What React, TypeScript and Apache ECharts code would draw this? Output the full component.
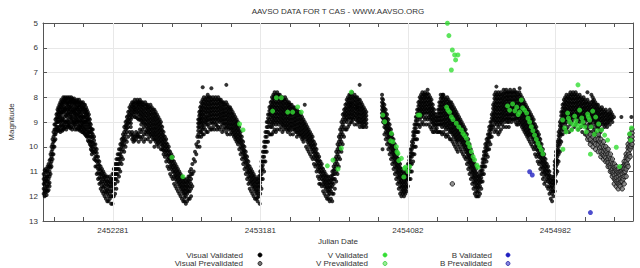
import React, { useEffect, useRef } from 'react';
import * as echarts from 'echarts';

// Julian dates below are stored as JD - 2450000
const JD0 = 2450000;
const chartTitle = 'AAVSO DATA FOR T CAS - WWW.AAVSO.ORG';
const xAxisName = 'Julian Date';
const yAxisName = 'Magnitude';
const xTickLabels = [2452281, 2453181, 2454082, 2454982];
const xRange = [2451854, 2455456];
const yRange = [5, 13];

// rows: [date, mag, mag, ...] — visual observations around that date
const visualValidatedRows: number[][] = [
  [1858, 11.1, 11.3, 11.5, 11.7, 11.9], [1864, 10.95, 11.2, 11.4, 11.55, 11.8, 12.0], [1870, 10.9, 11.05, 11.3, 11.45, 11.7, 11.85],
  [1876, 11.0, 11.2, 11.35, 11.6, 11.75, 11.95], [1882, 10.8, 10.95, 11.2, 11.4, 11.6, 11.8], [1888, 10.7, 10.85, 11.1, 11.3, 11.5, 11.75],
  [1894, 10.55, 10.8, 11.0, 11.2, 11.45, 11.6], [1900, 10.3, 10.5, 10.7, 10.85, 11.1], [1906, 10.0, 10.2, 10.4, 10.6, 10.8],
  [1912, 9.7, 9.9, 10.1, 10.3, 10.5], [1918, 9.4, 9.6, 9.8, 10.0, 10.3], [1924, 9.1, 9.3, 9.5, 9.75, 10.0],
  [1930, 8.9, 9.1, 9.3, 9.5, 9.7], [1936, 8.7, 8.85, 9.0, 9.2, 9.4], [1942, 8.5, 8.65, 8.8, 9.0, 9.2, 9.35],
  [1948, 8.4, 8.55, 8.7, 8.9, 9.0, 9.3], [1954, 8.3, 8.45, 8.6, 8.8, 8.95, 9.2, 9.35],
  [1960, 8.2, 8.35, 8.5, 8.65, 8.8, 9.0, 9.15, 9.4], [1966, 8.1, 8.25, 8.4, 8.6, 8.7, 8.95, 9.1, 9.3],
  [1972, 8.15, 8.3, 8.45, 8.6, 8.85, 8.9, 9.2, 9.35], [1978, 8.0, 8.2, 8.3, 8.5, 8.6, 9.0, 9.15, 9.3],
  [1984, 8.05, 8.15, 8.4, 8.55, 8.8, 8.95, 9.1, 9.25], [1990, 8.0, 8.1, 8.2, 8.45, 8.5, 8.7, 9.0, 9.2],
  [1996, 8.05, 8.1, 8.25, 8.4, 8.6, 8.75, 9.0, 9.3], [2002, 8.0, 8.2, 8.3, 8.5, 8.8, 8.95, 9.1, 9.2],
  [2008, 8.05, 8.2, 8.35, 8.5, 8.65, 8.7, 9.0, 9.15], [2014, 8.0, 8.15, 8.3, 8.45, 8.6, 8.9, 9.05, 9.2],
  [2020, 8.1, 8.2, 8.4, 8.5, 8.7, 8.8, 9.1, 9.25], [2026, 8.0, 8.1, 8.2, 8.35, 8.6, 8.8, 8.95, 9.2],
  [2032, 8.05, 8.25, 8.4, 8.55, 8.7, 8.85, 9.0, 9.3], [2038, 8.1, 8.2, 8.5, 8.6, 8.9, 9.05, 9.2],
  [2044, 8.05, 8.15, 8.3, 8.45, 8.6, 8.75, 9.0, 9.1], [2050, 8.2, 8.3, 8.5, 8.65, 8.8, 8.95, 9.1, 9.3],
  [2056, 8.15, 8.25, 8.4, 8.55, 8.7, 8.85, 9.0, 9.2], [2062, 8.1, 8.2, 8.4, 8.5, 8.7, 8.9, 9.0, 9.3],
  [2068, 8.2, 8.35, 8.5, 8.65, 8.8, 8.95, 9.1, 9.25], [2074, 8.1, 8.3, 8.4, 8.6, 8.75, 9.0, 9.15, 9.3],
  [2080, 8.2, 8.3, 8.5, 8.6, 8.8, 8.95, 9.2, 9.35], [2086, 8.2, 8.35, 8.5, 8.7, 8.85, 9.0, 9.15, 9.3],
  [2092, 8.25, 8.4, 8.6, 8.75, 8.9, 9.05, 9.2, 9.4], [2098, 8.2, 8.4, 8.5, 8.8, 8.95, 9.1, 9.25, 9.4],
  [2104, 8.3, 8.45, 8.6, 8.8, 9.0, 9.1, 9.3, 9.45], [2110, 8.3, 8.5, 8.65, 8.8, 9.0, 9.2, 9.35, 9.5],
  [2116, 8.4, 8.55, 8.7, 8.9, 9.0, 9.2, 9.4, 9.55], [2122, 8.5, 8.65, 8.8, 8.95, 9.1, 9.3, 9.5, 9.6],
  [2128, 8.6, 8.75, 8.9, 9.1, 9.3, 9.45, 9.6, 9.75], [2134, 8.7, 8.85, 9.0, 9.2, 9.4, 9.55, 9.8],
  [2140, 8.9, 9.05, 9.2, 9.4, 9.6, 9.75, 9.9], [2146, 9.1, 9.25, 9.4, 9.6, 9.8, 9.95, 10.1],
  [2152, 9.3, 9.45, 9.6, 9.8, 10.0, 10.15, 10.3],
  [2158, 9.3, 9.5, 9.65, 9.85, 10.0, 10.2], [2166, 9.6, 9.75, 9.9, 10.1, 10.25, 10.5], [2174, 9.9, 10.05, 10.2, 10.4, 10.55, 10.8],
  [2182, 10.1, 10.25, 10.4, 10.6, 10.8, 11.1], [2190, 10.4, 10.55, 10.7, 10.9, 11.05, 11.3], [2198, 10.6, 10.75, 10.9, 11.1, 11.25, 11.5],
  [2206, 10.8, 10.95, 11.1, 11.3, 11.45, 11.7], [2214, 10.9, 11.05, 11.2, 11.4, 11.6, 11.8], [2222, 11.0, 11.15, 11.3, 11.5, 11.65, 11.9],
  [2230, 11.1, 11.25, 11.4, 11.6, 11.8, 12.0], [2238, 11.2, 11.35, 11.5, 11.7, 11.85, 12.1], [2246, 11.2, 11.4, 11.55, 11.75, 11.9, 12.2],
  [2254, 11.3, 11.45, 11.6, 11.8, 12.0, 12.2], [2262, 11.2, 11.4, 11.55, 11.7, 11.9, 12.1], [2270, 11.3, 11.45, 11.6, 11.8, 12.0, 12.3],
  [2278, 11.1, 11.3, 11.45, 11.6, 11.8, 12.0, 12.3],
  [2286, 10.9, 11.1, 11.3, 11.5, 11.7, 12.0], [2294, 10.7, 10.9, 11.1, 11.3, 11.5, 11.9], [2302, 10.5, 10.7, 10.9, 11.1, 11.3, 11.7],
  [2310, 10.3, 10.5, 10.7, 10.9, 11.1, 11.4], [2318, 10.1, 10.3, 10.5, 10.7, 10.9, 11.2], [2326, 9.9, 10.1, 10.3, 10.45, 10.6, 11.0],
  [2334, 9.7, 9.85, 10.0, 10.2, 10.4, 10.7], [2342, 9.5, 9.65, 9.8, 9.95, 10.1, 10.5], [2350, 9.2, 9.4, 9.6, 9.75, 9.9, 10.2],
  [2358, 9.0, 9.15, 9.3, 9.5, 9.7, 10.0], [2366, 8.8, 8.95, 9.1, 9.25, 9.4, 9.8], [2374, 8.6, 8.75, 8.9, 9.05, 9.2, 9.6],
  [2382, 8.4, 8.55, 8.7, 8.85, 9.0, 9.4],
  [2390, 8.3, 8.45, 8.6, 8.75, 8.9, 9.05, 9.2, 9.5], [2398, 8.2, 8.35, 8.5, 8.65, 8.8, 9.4, 9.55, 9.7],
  [2406, 8.2, 8.3, 8.4, 8.55, 8.7, 9.5, 9.65, 9.8], [2414, 8.1, 8.25, 8.4, 8.5, 8.6, 8.8, 9.6, 9.75],
  [2422, 8.2, 8.35, 8.5, 8.65, 8.8, 9.4, 9.55, 9.7], [2430, 8.1, 8.2, 8.3, 8.45, 8.6, 8.85, 9.5, 9.6],
  [2438, 8.2, 8.3, 8.4, 8.55, 8.7, 8.9, 9.45, 9.6, 9.8], [2446, 8.1, 8.2, 8.3, 8.45, 8.6, 8.75, 8.9, 9.3, 9.6],
  [2454, 8.2, 8.35, 8.5, 8.65, 8.8, 8.95, 9.1, 9.4, 9.7], [2462, 8.2, 8.3, 8.4, 8.55, 8.7, 8.85, 9.0, 9.3, 9.6],
  [2470, 8.3, 8.45, 8.6, 8.75, 8.9, 9.05, 9.2, 9.5, 9.8], [2478, 8.2, 8.35, 8.5, 8.65, 8.8, 8.95, 9.1, 9.4, 9.7],
  [2486, 8.3, 8.45, 8.6, 8.75, 8.9, 9.05, 9.2, 9.35, 9.5], [2494, 8.3, 8.4, 8.5, 8.65, 8.8, 8.95, 9.1, 9.25, 9.4, 9.7],
  [2502, 8.4, 8.55, 8.7, 8.85, 9.0, 9.15, 9.3, 9.45, 9.6], [2510, 8.3, 8.45, 8.6, 8.75, 8.9, 9.05, 9.2, 9.35, 9.5, 9.8],
  [2518, 8.4, 8.55, 8.7, 8.85, 9.0, 9.15, 9.3, 9.45, 9.6], [2526, 8.5, 8.65, 8.8, 8.95, 9.1, 9.25, 9.4, 9.55, 9.7],
  [2534, 8.5, 8.65, 8.8, 8.95, 9.1, 9.25, 9.4, 9.55, 9.7, 10.0], [2542, 8.6, 8.75, 8.9, 9.05, 9.2, 9.35, 9.5, 9.65, 9.8],
  [2550, 8.7, 8.85, 9.0, 9.15, 9.3, 9.45, 9.6, 9.75, 9.9], [2558, 8.8, 8.95, 9.1, 9.25, 9.4, 9.55, 9.7, 9.85, 10.0],
  [2566, 8.9, 9.05, 9.2, 9.35, 9.5, 9.65, 9.8], [2574, 9.0, 9.15, 9.3, 9.45, 9.6, 9.75, 9.9, 10.1],
  [2582, 9.2, 9.35, 9.5, 9.65, 9.8, 9.95, 10.1], [2590, 9.4, 9.55, 9.7, 9.85, 10.0, 10.15, 10.3],
  [2598, 9.6, 9.75, 9.9, 10.05, 10.2, 10.4],
  [2606, 9.7, 9.85, 10.0, 10.15, 10.3, 10.6], [2614, 9.9, 10.05, 10.2, 10.35, 10.5, 10.8], [2622, 10.0, 10.15, 10.3, 10.45, 10.6, 10.9],
  [2630, 10.2, 10.35, 10.5, 10.65, 10.8, 11.1], [2638, 10.3, 10.45, 10.6, 10.75, 10.9, 11.2], [2646, 10.4, 10.55, 10.7, 10.85, 11.0, 11.3],
  [2654, 10.6, 10.75, 10.9, 11.05, 11.2, 11.5], [2662, 10.7, 10.85, 11.0, 11.15, 11.3, 11.6], [2670, 10.8, 10.95, 11.1, 11.25, 11.4, 11.7],
  [2678, 10.9, 11.05, 11.2, 11.35, 11.5, 11.8], [2686, 11.0, 11.15, 11.3, 11.45, 11.6, 11.9], [2694, 11.1, 11.25, 11.4, 11.55, 11.7, 12.0],
  [2702, 11.2, 11.35, 11.5, 11.65, 11.8, 12.1], [2710, 11.3, 11.45, 11.6, 11.75, 11.9, 12.2], [2718, 11.3, 11.45, 11.6, 11.75, 11.9, 12.05, 12.2],
  [2726, 11.4, 11.55, 11.7, 11.85, 12.0, 12.3], [2734, 11.3, 11.45, 11.6, 11.75, 11.9, 12.2], [2742, 11.2, 11.35, 11.5, 11.65, 11.8, 12.1],
  [2750, 11.0, 11.2, 11.4, 11.6, 11.8, 12.1], [2758, 10.9, 11.1, 11.3, 11.5, 11.7, 12.0], [2766, 10.7, 11.1, 11.6],
  [2774, 10.5, 11.0], [2782, 10.2, 10.6], [2790, 9.9, 10.3], [2796, 9.6, 10.0], [2810, 10.0],
  [2802, 8.9, 9.05, 9.2, 9.35, 9.5, 9.8], [2808, 8.6, 8.75, 8.9, 9.05, 9.2, 9.6], [2814, 8.4, 8.55, 8.7, 8.85, 9.0, 9.4],
  [2820, 8.2, 8.35, 8.5, 8.65, 8.8, 8.95, 9.1, 9.25, 9.4, 9.6], [2828, 8.1, 8.25, 8.4, 8.55, 8.7, 8.85, 9.0, 9.15, 9.3, 9.5],
  [2836, 8.0, 8.15, 8.3, 8.45, 8.6, 8.75, 8.9, 9.05, 9.2, 9.5], [2844, 8.1, 8.25, 8.4, 8.55, 8.7, 8.85, 9.0, 9.3],
  [2852, 8.0, 8.15, 8.3, 8.45, 8.6, 8.8, 8.95, 9.1, 9.4], [2860, 7.9, 8.05, 8.2, 8.35, 8.5, 8.65, 8.8, 8.95, 9.1, 9.4],
  [2868, 8.0, 8.15, 8.3, 8.45, 8.6, 8.75, 8.9, 9.2], [2876, 8.0, 8.15, 8.3, 8.45, 8.6, 8.75, 8.9, 9.05, 9.3],
  [2884, 8.1, 8.25, 8.4, 8.55, 8.7, 8.85, 9.0, 9.3], [2892, 8.0, 8.15, 8.3, 8.45, 8.6, 8.75, 8.9, 9.05, 9.2],
  [2900, 8.1, 8.25, 8.4, 8.55, 8.7, 8.85, 9.0, 9.3], [2908, 8.0, 8.15, 8.3, 8.45, 8.6, 8.75, 8.9, 9.1],
  [2916, 8.1, 8.25, 8.4, 8.55, 8.7, 8.85, 9.0, 9.15, 9.3], [2924, 8.0, 8.15, 8.3, 8.45, 8.6, 8.75, 8.9, 9.2],
  [2932, 8.1, 8.25, 8.4, 8.55, 8.7, 8.85, 9.0, 9.3], [2940, 8.1, 8.2, 8.35, 8.5, 8.65, 8.8, 8.95, 9.2],
  [2948, 8.2, 8.35, 8.5, 8.65, 8.8, 8.95, 9.1, 9.4], [2956, 8.2, 8.3, 8.45, 8.6, 8.75, 8.9, 9.05, 9.3],
  [2964, 8.3, 8.45, 8.6, 8.75, 8.9, 9.05, 9.2], [2972, 8.2, 8.35, 8.5, 8.65, 8.8, 8.95, 9.1, 9.25, 9.4],
  [2980, 8.3, 8.45, 8.6, 8.75, 8.9, 9.05, 9.2, 9.5], [2988, 8.4, 8.55, 8.7, 8.85, 9.0, 9.15, 9.3],
  [2996, 8.4, 8.5, 8.65, 8.8, 8.95, 9.1, 9.25, 9.5], [3004, 8.5, 8.65, 8.8, 8.95, 9.1, 9.25, 9.4],
  [3012, 8.6, 8.75, 8.9, 9.05, 9.2, 9.35, 9.5], [3020, 8.7, 8.85, 9.0, 9.15, 9.3, 9.45, 9.6],
  [3028, 8.8, 8.95, 9.1, 9.25, 9.4, 9.55, 9.7], [3036, 8.9, 9.05, 9.2, 9.35, 9.5, 9.65, 9.8],
  [3044, 9.0, 9.15, 9.3, 9.45, 9.6, 9.75, 9.9],
  [2829, 7.6], [2882, 7.64], [2973, 7.5],
  [3052, 9.2, 9.35, 9.5, 9.65, 9.8, 10.1], [3060, 9.4, 9.55, 9.7, 9.85, 10.0, 10.3], [3068, 9.6, 9.75, 9.9, 10.05, 10.2, 10.5],
  [3076, 9.8, 9.95, 10.1, 10.25, 10.4, 10.7], [3084, 10.0, 10.15, 10.3, 10.45, 10.6, 10.9], [3092, 10.2, 10.35, 10.5, 10.65, 10.8, 11.1],
  [3100, 10.4, 10.55, 10.7, 10.85, 11.0, 11.3], [3108, 10.6, 10.75, 10.9, 11.05, 11.2, 11.5], [3116, 10.8, 10.95, 11.1, 11.25, 11.4, 11.7],
  [3124, 10.9, 11.05, 11.2, 11.35, 11.5, 11.8], [3132, 11.0, 11.15, 11.3, 11.45, 11.6, 11.9], [3140, 11.1, 11.25, 11.4, 11.55, 11.7, 12.0],
  [3148, 11.2, 11.35, 11.5, 11.65, 11.8, 12.1], [3156, 11.3, 11.45, 11.6, 11.75, 11.9, 12.1], [3164, 11.3, 11.45, 11.6, 11.75, 11.9, 12.05, 12.2],
  [3172, 11.2, 11.35, 11.5, 11.65, 11.8, 12.0], [3177, 12.3],
  [3180, 11.0, 11.15, 11.3, 11.45, 11.6, 11.9], [3188, 10.6, 10.8, 10.95, 11.1, 11.3, 11.7], [3196, 10.2, 10.4, 10.6, 10.75, 10.9, 11.3],
  [3204, 9.8, 10.0, 10.2, 10.4, 10.6, 11.0], [3212, 9.4, 9.6, 9.8, 10.0, 10.2, 10.6], [3220, 9.0, 9.2, 9.4, 9.6, 9.8, 10.2],
  [3228, 8.7, 8.85, 9.0, 9.2, 9.4, 9.8], [3236, 8.4, 8.55, 8.7, 8.9, 9.1, 9.5], [3244, 8.2, 8.35, 8.5, 8.65, 8.8, 9.0, 9.2, 9.5],
  [3252, 8.0, 8.15, 8.3, 8.45, 8.6, 8.75, 8.9, 9.05, 9.2, 9.5], [3260, 7.9, 8.05, 8.2, 8.35, 8.5, 8.65, 8.8, 8.95, 9.1, 9.4],
  [3268, 7.8, 7.95, 8.1, 8.25, 8.4, 8.55, 8.7, 8.85, 9.0, 9.3], [3276, 7.9, 8.05, 8.2, 8.35, 8.5, 8.65, 8.8, 8.95, 9.1, 9.4],
  [3284, 7.8, 7.95, 8.1, 8.25, 8.4, 8.55, 8.7, 8.85, 9.0, 9.3], [3292, 7.9, 8.05, 8.2, 8.35, 8.5, 8.65, 8.8, 8.95, 9.1],
  [3300, 7.9, 8.0, 8.1, 8.25, 8.4, 8.55, 8.7, 8.85, 9.0, 9.3], [3308, 8.0, 8.15, 8.3, 8.45, 8.6, 8.75, 8.9, 9.05, 9.2],
  [3316, 8.0, 8.1, 8.2, 8.35, 8.5, 8.65, 8.8, 8.95, 9.1, 9.4], [3324, 8.1, 8.25, 8.4, 8.55, 8.7, 8.85, 9.0, 9.15, 9.3],
  [3332, 8.0, 8.15, 8.3, 8.45, 8.6, 8.75, 8.9, 9.05, 9.2], [3340, 8.1, 8.25, 8.4, 8.55, 8.7, 8.85, 9.0, 9.15, 9.3],
  [3348, 8.2, 8.35, 8.5, 8.65, 8.8, 8.95, 9.1, 9.25, 9.4], [3356, 8.2, 8.3, 8.4, 8.55, 8.7, 8.85, 9.0, 9.15, 9.3],
  [3364, 8.3, 8.45, 8.6, 8.75, 8.9, 9.05, 9.2, 9.35, 9.5], [3372, 8.3, 8.45, 8.6, 8.75, 8.9, 9.05, 9.2],
  [3380, 8.4, 8.55, 8.7, 8.85, 9.0, 9.15, 9.3, 9.5], [3388, 8.4, 8.55, 8.7, 8.85, 9.0, 9.15, 9.3],
  [3396, 8.5, 8.65, 8.8, 8.95, 9.1, 9.25, 9.4], [3404, 8.5, 8.65, 8.8, 8.95, 9.1, 9.25, 9.4, 9.6],
  [3412, 8.6, 8.75, 8.9, 9.05, 9.2, 9.35, 9.5], [3420, 8.6, 8.75, 8.9, 9.05, 9.2, 9.35, 9.5],
  [3428, 8.7, 8.85, 9.0, 9.15, 9.3, 9.45, 9.6], [3436, 8.8, 8.95, 9.1, 9.25, 9.4, 9.55, 9.7],
  [3444, 8.9, 9.05, 9.2, 9.35, 9.5, 9.65, 9.8], [3452, 8.3, 9.0, 9.15, 9.3, 9.45, 9.6],
  [3460, 9.1, 9.25, 9.4, 9.55, 9.7, 10.0], [3468, 9.2, 9.35, 9.5, 9.65, 9.8, 10.1], [3476, 9.3, 9.45, 9.6, 9.75, 9.9, 10.2],
  [3484, 9.4, 9.55, 9.7, 9.85, 10.0, 10.3], [3492, 9.5, 9.65, 9.8, 9.95, 10.1, 10.4], [3500, 9.6, 9.75, 9.9, 10.05, 10.2, 10.5],
  [3508, 9.8, 9.95, 10.1, 10.25, 10.4, 10.7], [3516, 9.9, 10.05, 10.2, 10.35, 10.5, 10.8], [3524, 10.1, 10.25, 10.4, 10.55, 10.7, 11.0],
  [3532, 10.3, 10.45, 10.6, 10.75, 10.9, 11.2], [3540, 10.4, 10.55, 10.7, 10.85, 11.0, 11.3, 11.5], [3548, 10.6, 10.75, 10.9, 11.05, 11.2, 11.5],
  [3556, 10.7, 10.85, 11.0, 11.15, 11.3, 11.6], [3564, 10.9, 11.05, 11.2, 11.35, 11.5, 11.8], [3572, 11.0, 11.15, 11.3, 11.45, 11.6, 11.9],
  [3580, 11.1, 11.25, 11.4, 11.55, 11.7, 12.0], [3588, 11.2, 11.35, 11.5, 11.65, 11.8, 12.1], [3596, 11.2, 11.35, 11.5, 11.65, 11.8, 11.95, 12.1],
  [3604, 11.3, 11.45, 11.6, 11.75, 11.9, 12.2], [3612, 11.2, 11.35, 11.5, 11.65, 11.8, 12.1], [3620, 11.0, 11.15, 11.3, 11.45, 11.6, 11.9, 12.2],
  [3628, 10.8, 10.95, 11.1, 11.3, 11.5, 11.9], [3636, 10.5, 10.7, 10.9, 11.1, 11.3, 11.7], [3644, 10.2, 10.4, 10.6, 10.8, 11.0, 11.4],
  [3652, 9.9, 10.1, 10.3, 10.5, 10.7, 11.1], [3660, 9.6, 9.8, 10.0, 10.2, 10.4, 10.8], [3668, 9.3, 9.5, 9.7, 9.9, 10.1, 10.5],
  [3676, 9.0, 9.2, 9.4, 9.6, 9.8, 10.2], [3684, 8.7, 8.9, 9.1, 9.3, 9.5, 9.9], [3692, 8.5, 8.65, 8.8, 9.0, 9.2, 9.6],
  [3700, 8.3, 8.45, 8.6, 8.75, 8.9, 9.3], [3708, 8.1, 8.25, 8.4, 8.55, 8.7, 8.85, 9.0, 9.3],
  [3716, 8.0, 8.15, 8.3, 8.45, 8.6, 8.75, 8.9, 9.2], [3724, 7.9, 8.05, 8.2, 8.35, 8.5, 8.65, 8.8, 9.1],
  [3732, 7.9, 8.05, 8.2, 8.3, 8.4, 8.55, 8.7, 8.85, 9.0], [3740, 7.8, 7.95, 8.1, 8.25, 8.4, 8.55, 8.7, 8.85, 9.0],
  [3748, 8.0, 8.15, 8.3, 8.45, 8.6, 8.75, 8.9], [3756, 7.9, 8.05, 8.2, 8.35, 8.5, 8.65, 8.8, 9.1],
  [3764, 8.0, 8.15, 8.3, 8.45, 8.6, 8.75, 8.9], [3772, 8.0, 8.15, 8.3, 8.4, 8.5, 8.65, 8.8, 8.95, 9.1],
  [3780, 8.1, 8.25, 8.4, 8.55, 8.7, 8.85, 9.0], [3788, 8.1, 8.25, 8.4, 8.55, 8.7, 8.85, 9.0, 9.2],
  [3796, 8.2, 8.35, 8.5, 8.65, 8.8, 8.95, 9.1], [3804, 8.3, 8.45, 8.6, 8.75, 8.9, 9.05, 9.2],
  [3812, 8.4, 8.55, 8.7, 8.85, 9.0, 9.2], [3820, 8.5, 8.65, 8.8, 8.95, 9.1], [3828, 8.6, 8.75, 8.9, 9.05, 9.2], [3787, 7.5],
  [3924, 7.9, 8.05, 8.2, 8.35, 8.5, 8.65, 8.8], [3930, 8.1, 8.25, 8.4, 8.55, 8.7, 8.85, 9.0],
  [3938, 8.3, 8.45, 8.6, 8.75, 8.9, 9.05, 9.2, 9.5], [3946, 8.5, 8.65, 8.8, 8.95, 9.1, 9.25, 9.4, 9.7],
  [3954, 8.7, 8.85, 9.0, 9.15, 9.3, 9.45, 9.6, 9.9], [3962, 8.9, 9.05, 9.2, 9.35, 9.5, 9.65, 9.8, 10.1],
  [3970, 9.1, 9.25, 9.4, 9.55, 9.7, 9.85, 10.0, 10.3], [3978, 9.3, 9.45, 9.6, 9.75, 9.9, 10.05, 10.2, 10.5],
  [3986, 9.5, 9.65, 9.8, 9.95, 10.1, 10.25, 10.4, 10.7], [3994, 9.7, 9.85, 10.0, 10.15, 10.3, 10.45, 10.6, 10.9],
  [4002, 9.9, 10.05, 10.2, 10.35, 10.5, 10.65, 10.8, 11.1], [4010, 10.1, 10.25, 10.4, 10.55, 10.7, 10.85, 11.0, 11.3],
  [4018, 10.3, 10.45, 10.6, 10.75, 10.9, 11.05, 11.2, 11.5], [4026, 10.5, 10.65, 10.8, 10.95, 11.1, 11.25, 11.4, 11.7],
  [4034, 10.7, 10.85, 11.0, 11.15, 11.3, 11.45, 11.6, 11.9], [4042, 10.9, 11.05, 11.2, 11.35, 11.5, 11.65, 11.8, 12.0],
  [4050, 11.0, 11.15, 11.3, 11.45, 11.6, 11.75, 11.9], [4058, 11.1, 11.25, 11.4, 11.55, 11.7, 11.85, 12.0],
  [4066, 11.0, 11.15, 11.3, 11.45, 11.6, 11.75, 11.9], [4074, 10.9, 11.05, 11.2, 11.35, 11.5, 11.65, 11.8], [3927, 10.1],
  [4082, 10.7, 10.85, 11.0, 11.15, 11.3, 11.6], [4090, 10.4, 10.55, 10.7, 10.85, 11.0, 11.3],
  [4098, 10.1, 10.25, 10.4, 10.55, 10.7, 11.0, 11.3], [4106, 9.8, 9.95, 10.1, 10.25, 10.4, 10.7, 11.0],
  [4114, 9.4, 9.55, 9.7, 9.85, 10.0, 10.3, 10.6], [4122, 9.1, 9.25, 9.4, 9.55, 9.7, 10.0, 10.3],
  [4130, 8.8, 8.95, 9.1, 9.25, 9.4, 9.7, 10.0], [4138, 8.5, 8.65, 8.8, 8.95, 9.1, 9.4, 9.7],
  [4146, 8.2, 8.35, 8.5, 8.65, 8.8, 9.1, 9.4], [4154, 8.0, 8.15, 8.3, 8.45, 8.6, 8.9, 9.2],
  [4162, 7.9, 8.05, 8.2, 8.35, 8.5, 8.65, 8.8, 9.1], [4170, 7.8, 7.95, 8.1, 8.25, 8.4, 8.55, 8.7, 9.0],
  [4178, 7.9, 8.05, 8.2, 8.35, 8.5, 8.65, 8.8, 9.1], [4186, 7.8, 7.9, 8.0, 8.15, 8.3, 8.45, 8.6, 8.9],
  [4194, 7.9, 8.05, 8.2, 8.35, 8.5, 8.65, 8.8, 9.1], [4202, 7.7, 7.85, 8.0, 8.15, 8.3, 8.45, 8.6, 8.9],
  [4210, 7.9, 8.05, 8.2, 8.35, 8.5, 8.65, 8.8, 9.1], [4218, 8.0, 8.15, 8.3, 8.45, 8.6, 8.75, 8.9, 9.2],
  [4226, 8.1, 8.25, 8.4, 8.55, 8.7, 8.85, 9.0, 9.3], [4234, 8.3, 8.45, 8.6, 8.75, 8.9, 9.05, 9.2, 9.4],
  [4242, 8.5, 8.65, 8.8, 8.95, 9.1, 9.4], [4250, 8.7, 8.85, 9.0, 9.15, 9.3], [4258, 8.8, 8.95, 9.1, 9.25, 9.4],
  [4266, 8.5, 8.65, 8.8, 8.95, 9.1, 9.4], [4274, 8.2, 8.35, 8.5, 8.65, 8.8, 8.95, 9.1, 9.4],
  [4282, 7.9, 8.05, 8.2, 8.35, 8.5, 8.65, 8.8, 8.95, 9.1, 9.4], [4290, 8.0, 8.15, 8.3, 8.45, 8.6, 8.75, 8.9, 9.05, 9.2, 9.5],
  [4298, 7.9, 8.05, 8.2, 8.35, 8.5, 8.65, 8.8, 8.95, 9.1, 9.4], [4306, 8.0, 8.15, 8.3, 8.45, 8.6, 8.75, 8.9, 9.05, 9.2, 9.5],
  [4314, 8.1, 8.25, 8.4, 8.55, 8.7, 8.85, 9.0, 9.15, 9.3, 9.6], [4322, 8.0, 8.15, 8.3, 8.45, 8.6, 8.75, 8.9, 9.05, 9.2, 9.5],
  [4330, 8.1, 8.25, 8.4, 8.55, 8.7, 8.85, 9.0, 9.15, 9.3, 9.6], [4338, 8.2, 8.35, 8.5, 8.65, 8.8, 8.95, 9.1, 9.25, 9.4, 9.7],
  [4346, 8.2, 8.35, 8.5, 8.65, 8.8, 8.95, 9.1, 9.25, 9.4, 9.7], [4354, 8.3, 8.45, 8.6, 8.75, 8.9, 9.05, 9.2, 9.35, 9.5, 9.8],
  [4362, 8.4, 8.55, 8.7, 8.85, 9.0, 9.15, 9.3, 9.45, 9.6, 9.9], [4370, 8.5, 8.65, 8.8, 8.95, 9.1, 9.25, 9.4, 9.55, 9.7, 10.0],
  [4378, 8.6, 8.75, 8.9, 9.05, 9.2, 9.35, 9.5, 9.65, 9.8, 10.1], [4386, 8.7, 8.85, 9.0, 9.15, 9.3, 9.45, 9.6, 9.75, 9.9, 10.2],
  [4394, 8.8, 8.95, 9.1, 9.25, 9.4, 9.55, 9.7, 10.0], [4294, 7.9],
  [4402, 8.9, 9.05, 9.2, 9.35, 9.5, 9.65, 9.8, 10.1], [4410, 9.0, 9.15, 9.3, 9.45, 9.6, 9.75, 9.9, 10.2],
  [4418, 9.1, 9.25, 9.4, 9.55, 9.7, 9.85, 10.0, 10.3], [4426, 9.2, 9.35, 9.5, 9.65, 9.8, 9.95, 10.1, 10.4],
  [4434, 9.3, 9.45, 9.6, 9.75, 9.9, 10.05, 10.2, 10.5], [4442, 9.5, 9.65, 9.8, 9.95, 10.1, 10.25, 10.4, 10.7],
  [4450, 9.7, 9.85, 10.0, 10.15, 10.3, 10.45, 10.6, 10.9], [4458, 9.9, 10.05, 10.2, 10.35, 10.5, 10.65, 10.8, 11.1],
  [4466, 10.1, 10.25, 10.4, 10.55, 10.7, 10.85, 11.0, 11.3], [4474, 10.3, 10.45, 10.6, 10.75, 10.9, 11.05, 11.2, 11.5],
  [4482, 10.5, 10.65, 10.8, 10.95, 11.1, 11.25, 11.4, 11.7], [4490, 10.7, 10.85, 11.0, 11.15, 11.3, 11.45, 11.6, 11.9],
  [4498, 10.9, 11.05, 11.2, 11.35, 11.5, 11.65, 11.8, 12.0], [4506, 11.1, 11.25, 11.4, 11.55, 11.7, 11.85, 12.0],
  [4514, 11.2, 11.35, 11.5, 11.65, 11.8, 12.0],
  [4522, 11.0, 11.15, 11.3, 11.45, 11.6, 11.9], [4530, 10.8, 10.95, 11.1, 11.25, 11.4, 11.7], [4538, 10.5, 10.65, 10.8, 10.95, 11.1, 11.4],
  [4546, 10.2, 10.35, 10.5, 10.65, 10.8, 11.1], [4554, 9.9, 10.05, 10.2, 10.35, 10.5, 10.8], [4562, 9.7, 9.85, 10.0, 10.15, 10.3, 10.6],
  [4570, 9.5, 9.65, 9.8, 9.95, 10.1, 10.4], [4578, 9.2, 9.35, 9.5, 9.65, 9.8, 10.1], [4586, 9.0, 9.15, 9.3, 9.45, 9.6, 9.9],
  [4594, 8.7, 8.85, 9.0, 9.15, 9.3, 9.6], [4602, 8.3, 8.45, 8.6, 8.75, 8.9, 9.2],
  [4610, 7.9, 8.05, 8.2, 8.35, 8.5, 8.65, 8.8, 8.95, 9.1, 9.4], [4618, 7.8, 7.95, 8.1, 8.25, 8.4, 8.55, 8.7, 8.85, 9.0, 9.3],
  [4626, 7.9, 8.05, 8.2, 8.35, 8.5, 8.65, 8.8, 8.95, 9.1, 9.4], [4634, 7.8, 7.95, 8.1, 8.25, 8.4, 8.55, 8.7, 8.85, 9.0, 9.2, 9.5],
  [4642, 7.9, 8.05, 8.2, 8.35, 8.5, 8.65, 8.8, 8.95, 9.1, 9.4], [4650, 7.8, 7.95, 8.1, 8.25, 8.4, 8.55, 8.7, 8.85, 9.0, 9.3],
  [4658, 7.9, 8.05, 8.2, 8.35, 8.5, 8.65, 8.8, 8.95, 9.1], [4666, 7.7, 7.85, 8.0, 8.15, 8.3, 8.45, 8.6, 8.75, 8.9, 9.2],
  [4674, 7.8, 7.95, 8.1, 8.25, 8.4, 8.55, 8.7, 8.85, 9.0], [4682, 7.7, 7.85, 8.0, 8.15, 8.3, 8.45, 8.6, 8.75, 8.9, 9.2],
  [4690, 7.8, 7.95, 8.1, 8.25, 8.4, 8.55, 8.7, 8.85, 9.0], [4698, 7.8, 7.95, 8.1, 8.25, 8.4, 8.55, 8.7, 8.85, 9.0, 9.2],
  [4706, 7.7, 7.85, 8.0, 8.15, 8.3, 8.45, 8.6, 8.75, 8.9], [4714, 7.8, 7.95, 8.1, 8.25, 8.4, 8.55, 8.7, 8.85, 9.0],
  [4722, 7.8, 7.95, 8.1, 8.25, 8.4, 8.55, 8.7, 8.9], [4730, 7.7, 7.85, 8.0, 8.15, 8.3, 8.45, 8.6, 8.75, 8.9],
  [4738, 7.8, 7.95, 8.1, 8.25, 8.4, 8.55, 8.7, 8.85, 9.0], [4746, 7.8, 7.95, 8.1, 8.25, 8.4, 8.55, 8.7, 8.85, 9.1],
  [4754, 7.9, 8.05, 8.2, 8.35, 8.5, 8.65, 8.8, 8.95, 9.1], [4762, 7.8, 7.95, 8.1, 8.25, 8.4, 8.55, 8.7, 8.85, 9.0],
  [4770, 7.9, 8.05, 8.2, 8.35, 8.5, 8.65, 8.8, 8.95, 9.1], [4778, 8.0, 8.15, 8.3, 8.45, 8.6, 8.75, 8.9, 9.05, 9.2],
  [4786, 8.1, 8.25, 8.4, 8.55, 8.7, 8.85, 9.0, 9.15, 9.3], [4794, 8.2, 8.35, 8.5, 8.65, 8.8, 8.95, 9.1, 9.25, 9.4],
  [4802, 8.3, 8.45, 8.6, 8.75, 8.9, 9.05, 9.2, 9.35, 9.5], [4810, 8.4, 8.55, 8.7, 8.85, 9.0, 9.15, 9.3, 9.45, 9.6],
  [4818, 8.5, 8.65, 8.8, 8.95, 9.1, 9.25, 9.4, 9.55, 9.7], [4622, 7.57], [4764, 7.64],
  [4826, 8.6, 8.75, 8.9, 9.05, 9.2, 9.35, 9.5, 9.8], [4834, 8.7, 8.85, 9.0, 9.15, 9.3, 9.45, 9.6, 9.9],
  [4842, 8.8, 8.95, 9.1, 9.25, 9.4, 9.55, 9.7, 10.0], [4850, 8.9, 9.05, 9.2, 9.35, 9.5, 9.65, 9.8, 10.1],
  [4858, 9.1, 9.25, 9.4, 9.55, 9.7, 9.85, 10.0, 10.3], [4866, 9.2, 9.35, 9.5, 9.65, 9.8, 9.95, 10.1, 10.4],
  [4874, 9.4, 9.55, 9.7, 9.85, 10.0, 10.15, 10.3, 10.6], [4882, 9.5, 9.65, 9.8, 9.95, 10.1, 10.25, 10.4, 10.7],
  [4890, 9.7, 9.85, 10.0, 10.15, 10.3, 10.45, 10.6, 10.9], [4898, 9.9, 10.05, 10.2, 10.35, 10.5, 10.65, 10.8, 11.1],
  [4906, 10.1, 10.25, 10.4, 10.55, 10.7, 10.85, 11.0, 11.3], [4914, 10.3, 10.45, 10.6, 10.75, 10.9, 11.05, 11.2, 11.5],
  [4922, 10.5, 10.65, 10.8, 10.95, 11.1, 11.4], [4930, 10.7, 10.85, 11.0, 11.15, 11.3, 11.6],
  [4938, 10.8, 10.95, 11.1, 11.25, 11.4, 11.7], [4946, 11.0, 11.15, 11.3, 11.45, 11.6, 11.9],
  [4954, 11.2, 11.35, 11.5, 11.65, 11.8, 12.1], [4962, 11.3, 11.45, 11.6, 11.75, 11.9, 12.2],
  [4970, 11.2, 11.35, 11.5, 11.65, 11.8, 12.0],
  [4978, 10.6, 10.75, 10.9, 11.05, 11.2, 11.35, 11.5, 11.8], [4986, 10.2, 10.35, 10.5, 10.65, 10.8, 10.95, 11.1, 11.4],
  [4994, 9.8, 9.95, 10.1, 10.25, 10.4, 10.55, 10.7, 11.0], [5002, 9.4, 9.55, 9.7, 9.85, 10.0, 10.15, 10.3, 10.6],
  [5010, 9.0, 9.15, 9.3, 9.45, 9.6, 9.75, 9.9, 10.2], [5018, 8.6, 8.75, 8.9, 9.05, 9.2, 9.35, 9.5, 9.8],
  [5026, 8.3, 8.45, 8.6, 8.75, 8.9, 9.05, 9.2, 9.5], [5034, 8.1, 8.25, 8.4, 8.55, 8.7, 8.85, 9.0, 9.3],
  [5042, 8.0, 8.15, 8.3, 8.45, 8.6, 8.75, 8.9, 9.1, 9.4], [5050, 7.9, 8.05, 8.2, 8.35, 8.5, 8.65, 8.8, 9.0, 9.3],
  [5058, 8.0, 8.15, 8.3, 8.45, 8.6, 8.75, 8.9, 9.2], [5066, 7.9, 8.05, 8.2, 8.35, 8.5, 8.65, 8.8, 9.0, 9.4],
  [5074, 7.8, 7.95, 8.1, 8.25, 8.4, 8.55, 8.7, 8.85, 9.1], [5082, 7.9, 8.05, 8.2, 8.35, 8.5, 8.65, 8.8, 9.0, 9.3],
  [5090, 7.8, 7.95, 8.1, 8.25, 8.4, 8.55, 8.7, 8.9], [5098, 7.9, 8.05, 8.2, 8.35, 8.5, 8.65, 8.8, 9.2],
  [5106, 7.8, 7.95, 8.1, 8.25, 8.4, 8.55, 8.7, 8.85, 9.1], [5114, 7.9, 8.05, 8.2, 8.35, 8.5, 8.65, 8.8, 9.0],
  [5122, 8.0, 8.15, 8.3, 8.45, 8.6, 8.75, 8.9, 9.3], [5130, 7.9, 8.05, 8.2, 8.35, 8.5, 8.65, 8.8, 9.0],
  [5138, 8.0, 8.15, 8.3, 8.45, 8.6, 8.75, 8.9, 9.2], [5146, 8.1, 8.25, 8.4, 8.55, 8.7, 8.85, 9.0, 9.4],
  [5154, 8.0, 8.15, 8.3, 8.45, 8.6, 8.75, 8.9, 9.1], [5162, 8.1, 8.25, 8.4, 8.55, 8.7, 8.85, 9.1, 9.5],
  [5170, 8.2, 8.35, 8.5, 8.65, 8.8, 8.95, 9.2], [5178, 7.8, 8.1, 8.25, 8.4, 8.55, 8.7, 8.9, 9.3, 9.6],
  [5186, 8.2, 8.35, 8.5, 8.65, 8.8, 8.95, 9.1, 9.4, 9.7], [5194, 8.3, 8.45, 8.6, 8.75, 8.9, 9.05, 9.2, 9.5, 9.8],
  [5202, 7.9, 8.2, 8.35, 8.5, 8.65, 8.8, 8.95, 9.1, 9.4], [5210, 8.0, 8.15, 8.3, 8.45, 8.6, 8.75, 8.9, 9.2, 9.5, 9.8],
  [5218, 8.1, 8.25, 8.4, 8.55, 8.7, 8.85, 9.0, 9.3, 9.6], [5226, 8.2, 8.35, 8.5, 8.65, 8.8, 8.95, 9.1, 9.4, 9.7],
  [5234, 8.3, 8.45, 8.6, 8.75, 8.9, 9.05, 9.2, 9.5], [5242, 8.3, 8.45, 8.6, 8.75, 8.9, 9.05, 9.2, 9.5, 9.8],
  [5250, 8.4, 8.55, 8.7, 8.85, 9.0, 9.15, 9.3, 9.6],
  [5258, 8.5, 8.65, 8.8, 8.95, 9.1, 9.4], [5266, 8.4, 8.55, 8.7, 8.85, 9.0, 9.3], [5274, 8.5, 8.65, 8.8, 8.95, 9.1],
  [5282, 8.6, 8.75, 8.9, 9.05, 9.2], [5290, 8.5, 8.65, 8.8, 8.95, 9.1], [5298, 8.6, 8.75, 8.9, 9.05, 9.2],
  [5306, 8.7, 8.85, 9.0], [5314, 8.5, 8.65, 8.8, 8.95, 9.1], [5322, 8.6, 8.75, 8.9], [5330, 8.7, 8.85, 9.0],
  [5340, 8.8], [5385, 8.8], [5446, 8.8],
];

const visualPrevalidatedRows: number[][] = [
  [4353, 11.5],
  [5180, 9.4, 9.55, 9.7], [5186, 9.6], [5196, 9.5, 9.7, 9.9], [5212, 9.6, 9.8, 10.0], [5220, 9.85],
  [5228, 9.7, 9.9, 10.1], [5244, 9.5, 9.7, 9.9, 10.2], [5252, 9.8, 10.05], [5260, 9.7, 9.85, 10.0, 10.2, 10.4],
  [5268, 9.9, 10.3], [5276, 9.8, 10.0, 10.2, 10.35, 10.5], [5283, 10.1, 10.4], [5290, 10.0, 10.15, 10.3, 10.45, 10.6],
  [5297, 10.2, 10.55], [5304, 10.1, 10.3, 10.5, 10.65, 10.8], [5311, 10.4, 10.75], [5318, 10.3, 10.5, 10.7, 10.85, 11.0],
  [5324, 10.6, 10.95], [5330, 10.5, 10.7, 10.9, 11.05, 11.2], [5336, 10.8, 11.1], [5342, 10.7, 10.85, 11.0, 11.15, 11.3, 11.5],
  [5348, 10.9, 11.35], [5354, 10.8, 10.95, 11.1, 11.25, 11.4, 11.6], [5360, 11.0, 11.45],
  [5366, 10.9, 11.05, 11.2, 11.35, 11.5, 11.7], [5372, 11.1, 11.55], [5378, 11.0, 11.15, 11.3, 11.45, 11.6],
  [5384, 11.0, 11.4], [5390, 10.8, 10.95, 11.1, 11.25, 11.4, 11.7], [5396, 10.9, 11.3],
  [5402, 10.6, 10.75, 10.9, 11.05, 11.2, 11.5], [5408, 10.7, 11.0], [5414, 10.3, 10.45, 10.6, 10.75, 10.9, 11.2],
  [5420, 10.4, 10.7], [5426, 9.9, 10.05, 10.2, 10.35, 10.5, 10.8], [5432, 10.0, 10.3],
  [5438, 9.5, 9.65, 9.8, 9.95, 10.1, 10.4], [5444, 9.7, 10.0], [5450, 9.3, 9.45, 9.6, 9.75, 9.9],
];

// [date, mag]
const vValidated: number[][] = [
  [2641, 10.43], [2708, 11.21], [3054, 9.08], [3075, 9.32], [3279, 8.02], [3309, 8.02], [3256, 8.56],
  [3348, 8.6], [3378, 8.6], [3409, 8.39], [3431, 8.6], [3590, 10.77], [3624, 10.54], [3655, 10.9],
  [3675, 10.06], [3736, 7.79],
  [3929, 8.72], [3940, 8.99], [3981, 9.46], [3990, 9.8], [4011, 10.0], [4021, 10.27], [4042, 10.47],
  [4062, 10.87], [4082, 11.0], [4093, 10.8], [3976, 9.76], [4015, 10.2], [4026, 10.56], [4067, 10.82],
  [4057, 11.22], [4144, 8.72], [4154, 8.72],
  [4323, 5.01], [4332, 5.51], [4353, 6.09], [4367, 6.29], [4387, 6.29], [4373, 6.49], [4347, 6.9],
  [4326, 8.52], [4347, 8.79], [4377, 9.05], [4408, 9.32], [4418, 9.46], [4439, 9.66], [4459, 10.0],
  [4469, 10.2], [4489, 10.53], [4503, 10.74], [4509, 10.83], [4318, 8.4], [4336, 8.6], [4357, 8.9],
  [4392, 9.2], [4428, 9.55], [4449, 9.85], [4480, 10.4],
  [4703, 8.52], [4721, 8.27], [4746, 8.4], [4764, 8.6], [4782, 8.43], [4807, 8.64], [4690, 8.35],
  [4735, 8.55], [4755, 8.7],
  [4774, 8.11], [4794, 8.52], [4815, 8.85], [4835, 9.19], [4855, 9.53], [4876, 9.86], [4896, 10.13],
  [4906, 10.29], [4825, 9.0], [4845, 9.35], [4866, 9.7], [4886, 10.0],
  [5028, 10.1], [5026, 8.92], [5039, 9.24], [5057, 8.64], [5069, 9.0], [5081, 9.32], [5100, 8.76],
  [5112, 9.12], [5130, 8.52], [5143, 8.84], [5161, 9.2], [5179, 8.68], [5191, 8.92], [5210, 8.56],
  [5228, 8.8], [5246, 9.08], [5264, 9.32], [5283, 9.53], [5301, 9.73], [5120, 7.5], [5196, 10.3],
  [5354, 10.02], [5374, 10.8], [5435, 9.48], [5441, 9.73], [5447, 9.24],
  [5048, 9.4], [5090, 9.1], [5120, 9.3], [5150, 9.0], [5170, 9.4], [5200, 9.2], [5220, 9.5],
  [5238, 9.35], [5062, 8.85], [5108, 8.95], [5136, 9.15], [5184, 8.8],
];
const vPrevalidated: number[][] = [];
const bValidated: number[][] = [[4825, 11.01], [4841, 11.14], [5196, 12.66]];
const bPrevalidated: number[][] = [];

const FONT = 'Liberation Sans, Arial, Helvetica, sans-serif';

const fromRows = (rows: number[][]) =>
  rows.flatMap(([d, ...ms]) => ms.map((m) => [JD0 + d, m]));
const fromPairs = (ps: number[][]) => ps.map(([d, m]) => [JD0 + d, m]);

const legendItems = [
  { name: 'Visual Validated', color: '#000000', border: '#000000', col: 0, row: 0 },
  { name: 'Visual Prevalidated', color: '#777777', border: '#111111', col: 0, row: 1 },
  { name: 'V Validated', color: '#33dd33', border: '#33dd33', col: 1, row: 0 },
  { name: 'V Prevalidated', color: '#99ee99', border: '#33cc33', col: 1, row: 1 },
  { name: 'B Validated', color: '#2020c0', border: '#2020c0', col: 2, row: 0 },
  { name: 'B Prevalidated', color: '#8888e0', border: '#2020a0', col: 2, row: 1 },
];

export default function App() {
  const ref = useRef<HTMLDivElement>(null);
  useEffect(() => {
    if (!ref.current) return;
    const chart = echarts.init(ref.current, undefined, { renderer: 'svg' });
    const step = (xTickLabels[xTickLabels.length - 1] - xTickLabels[0]) / ((xTickLabels.length - 1) * 5);
    const tickVals: number[] = [];
    for (let k = -5; k < 30; k++) {
      const v = xTickLabels[0] + k * step;
      if (v > xRange[0] && v < xRange[1]) tickVals.push(v);
    }
    const frame = { color: '#555', width: 1 };
    const textCol = '#333';
    const legendTextX = [243, 368, 492];
    const legendSymX = [260, 385, 508];
    const legendY = [255, 263.5];
    const txt = (text: string, x: number, y: number, align: string, extra: any = {}) => ({
      type: 'text', x, y, ...extra,
      style: { text, fill: textCol, fontSize: 8, fontFamily: FONT, align, verticalAlign: 'middle' },
    });
    const graphics: any[] = [
      txt(chartTitle, 338, 11, 'center'),
      txt(xAxisName, 338, 241, 'center'),
      txt(yAxisName, 11, 122, 'center', { rotation: Math.PI / 2 }),
    ];
    legendItems.forEach((it) => {
      graphics.push(txt(it.name, legendTextX[it.col], legendY[it.row], 'right'));
      graphics.push({ type: 'circle', shape: { cx: legendSymX[it.col], cy: legendY[it.row], r: 2 }, style: { fill: it.color, stroke: it.border, lineWidth: 0.8 } });
    });
    const xBase = {
      type: 'value', min: xRange[0], max: xRange[1],
      axisLine: { show: true, onZero: false, lineStyle: frame },
      axisTick: { show: true, inside: true, length: 4, customValues: tickVals, lineStyle: frame },
      splitLine: { show: false },
    };
    const yBase = {
      type: 'value', inverse: true, min: yRange[0], max: yRange[1], interval: 1,
      axisLine: { show: true, onZero: false, lineStyle: frame },
      axisTick: { show: true, inside: true, length: 4, lineStyle: frame },
    };
    const option: any = {
      animation: false,
      textStyle: { fontFamily: FONT },
      grid: { left: 43, top: 23, width: 590, height: 198 },
      xAxis: [
        { ...xBase, position: 'bottom', axisLabel: { customValues: xTickLabels, formatter: (v: number) => String(Math.round(v)), fontSize: 8, color: textCol, margin: 5, fontFamily: FONT } },
        { ...xBase, position: 'top', axisLabel: { show: false } },
      ],
      yAxis: [
        { ...yBase, position: 'left', axisLabel: { fontSize: 8, color: textCol, margin: 5, fontFamily: FONT }, splitLine: { show: true, lineStyle: { color: '#e8e8e8', width: 1 } } },
        { ...yBase, position: 'right', axisLabel: { show: false }, splitLine: { show: false } },
      ],
      graphic: graphics,
      series: [
        {
          type: 'scatter', data: [], z: 1, silent: true,
          markLine: {
            silent: true, symbol: 'none', label: { show: false },
            lineStyle: { color: '#e8e8e8', type: 'solid', width: 1 },
            data: xTickLabels.map((v) => ({ xAxis: v })),
          },
        },
        { type: 'scatter', name: 'Visual Validated', data: fromRows(visualValidatedRows), symbolSize: 4, itemStyle: { color: '#000' }, clip: false, silent: true, z: 2 },
        { type: 'scatter', name: 'Visual Prevalidated', data: fromRows(visualPrevalidatedRows), symbolSize: 4.5, itemStyle: { color: '#777', borderColor: '#111', borderWidth: 1 }, clip: false, silent: true, z: 3 },
        { type: 'scatter', name: 'V Validated', data: fromPairs(vValidated), symbolSize: 5, itemStyle: { color: '#33dd33' }, clip: false, silent: true, z: 4 },
        { type: 'scatter', name: 'V Prevalidated', data: fromPairs(vPrevalidated), symbolSize: 5, itemStyle: { color: '#99ee99', borderColor: '#33cc33', borderWidth: 0.8 }, clip: false, silent: true, z: 4 },
        { type: 'scatter', name: 'B Validated', data: fromPairs(bValidated), symbolSize: 5, itemStyle: { color: '#2020c0' }, clip: false, silent: true, z: 5 },
        { type: 'scatter', name: 'B Prevalidated', data: fromPairs(bPrevalidated), symbolSize: 5, itemStyle: { color: '#8888e0', borderColor: '#2020a0', borderWidth: 0.8 }, clip: false, silent: true, z: 5 },
      ],
    };
    chart.setOption(option);
    return () => chart.dispose();
  }, []);
  return <div ref={ref} style={{ position: 'absolute', left: 0, top: 0, width: 640, height: 268, background: '#fff' }} />;
}
